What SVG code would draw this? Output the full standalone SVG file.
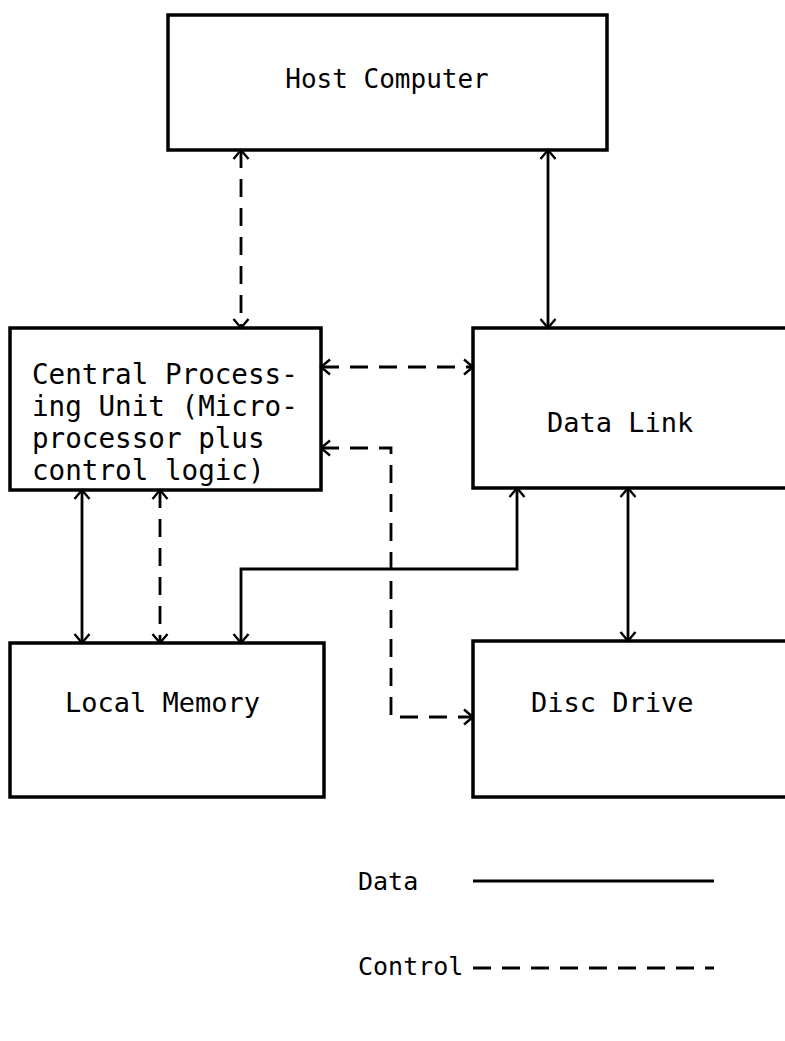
<svg xmlns="http://www.w3.org/2000/svg" width="785" height="1041" viewBox="0 0 785 1041">
<style>
.box{fill:#fff;stroke:#000;stroke-width:3.5}
.lbl{font-family:"DejaVu Sans Mono","Liberation Mono",monospace;font-size:27px;fill:#000}
.data{fill:none;stroke:#000;stroke-width:2.8}
.ctl{fill:none;stroke:#000;stroke-width:2.8;stroke-dasharray:18 11}
</style>
<defs>
<marker id="ah" viewBox="-12 -10 14 20" refX="0" refY="0" markerWidth="14" markerHeight="20" markerUnits="userSpaceOnUse" orient="auto-start-reverse">
<path d="M-9,-7.5 L0,0 L-9,7.5" fill="none" stroke="#000" stroke-width="2.4"/>
</marker>
</defs>
<rect width="785" height="1041" fill="#fff"/>
<g id="host"><rect class="box" x="168" y="15" width="439" height="135"/><text class="lbl" x="387" y="88" text-anchor="middle" style="font-size:26px">Host Computer</text></g>
<g id="cpu"><rect class="box" x="10" y="328" width="311" height="162"/>
<g style="font-size:27.6px">
<text class="lbl" x="32" y="384" style="font-size:27.6px">Central Process-</text>
<text class="lbl" x="32" y="416" style="font-size:27.6px">ing Unit (Micro-</text>
<text class="lbl" x="32" y="448" style="font-size:27.6px">processor plus</text>
<text class="lbl" x="32" y="480" style="font-size:27.6px">control logic)</text></g></g>
<g id="datalink"><rect class="box" x="473" y="328" width="330" height="160"/><text class="lbl" x="547" y="432">Data Link</text></g>
<g id="localmem"><rect class="box" x="10" y="643" width="314" height="154"/><text class="lbl" x="65" y="712">Local Memory</text></g>
<g id="disc"><rect class="box" x="473" y="641" width="330" height="156"/><text class="lbl" x="531" y="712">Disc Drive</text></g>
<g id="connectors">
<path class="ctl" d="M241,150 V328" marker-start="url(#ah)" marker-end="url(#ah)"/>
<path class="data" d="M548,150 V328" marker-start="url(#ah)" marker-end="url(#ah)"/>
<path class="ctl" d="M321,367 H473" marker-start="url(#ah)" marker-end="url(#ah)"/>
<path class="ctl" d="M321,448 H391 V717 H473" marker-start="url(#ah)" marker-end="url(#ah)"/>
<path class="data" d="M82,490 V643" marker-start="url(#ah)" marker-end="url(#ah)"/>
<path class="ctl" d="M160,490 V643" marker-start="url(#ah)" marker-end="url(#ah)"/>
<path class="data" d="M241,643 V569 H517 V488" marker-start="url(#ah)" marker-end="url(#ah)"/>
<path class="data" d="M628,488 V641" marker-start="url(#ah)" marker-end="url(#ah)"/>
</g>
<g id="legend">
<text class="lbl" x="358" y="890" style="font-size:25px">Data</text>
<line class="data" x1="473" y1="881" x2="714" y2="881"/>
<text class="lbl" x="358" y="975" style="font-size:25px">Control</text>
<line class="ctl" x1="473" y1="968" x2="714" y2="968"/>
</g>
</svg>
